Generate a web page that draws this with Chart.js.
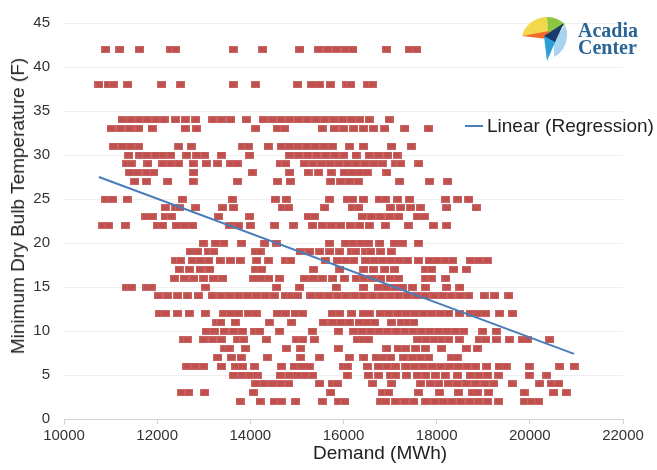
<!DOCTYPE html>
<html>
<head>
<meta charset="utf-8">
<script src="https://cdn.jsdelivr.net/npm/chart.js@4/dist/chart.umd.min.js"></script>
<style>
  body { margin: 0; background: #fff; }
  #wrap { position: relative; width: 657px; height: 470px; font-family: "Liberation Sans", Arial, sans-serif; }
  #logo { position: absolute; left: 518px; top: 14px; }
  #brand { position: absolute; left: 578px; top: 22px; font: bold 20px/17px "Liberation Serif", serif; color: #2a6596; }
  #legend { position: absolute; left: 465px; top: 115px; font-size: 19px; line-height: 22px; color: #222; white-space: nowrap; }
  #legend span { display: inline-block; width: 18px; height: 2px; background: #4a7ebb; vertical-align: middle; margin-right: 4px; position: relative; top: -1px; }
  #xtitle { position: absolute; left: 313px; top: 442px; font-size: 19px; line-height: 22px; color: #222; white-space: nowrap; }
  #ytitle { position: absolute; left: 18px; top: 206px; font-size: 19px; line-height: 22px; color: #222; white-space: nowrap;
            transform: translate(-50%, -50%) rotate(-90deg); }
</style>
</head>
<body>
<div id="wrap">
  <canvas id="myChart" width="657" height="470"></canvas>
  <svg id="logo" width="52" height="50" viewBox="0 0 52 50">
    <path d="M30 21 L4 22 A26 24 0 0 1 29 3 Z" fill="#f3d84b"/>
    <path d="M30 21 L29 3 A22 20 0 0 1 47 11 Z" fill="#8dc641"/>
    <path d="M36 26 L47 11 A22 22 0 0 1 49 23 A22 24 0 0 1 36 43 Z" fill="#a9d3ef"/>
    <path d="M4 22 L31 17 L30 25 Z" fill="#f26b2a"/>
    <path d="M26 22 L38 26 L29 47 Z" fill="#2a9fd8"/>
    <path d="M46 9 L26 22 L37 28 Z" fill="#1b3a6b"/>
  </svg>
  <div id="brand">Acadia<br>Center</div>
  <div id="legend"><span></span>Linear (Regression)</div>
  <div id="xtitle">Demand (MWh)</div>
  <div id="ytitle">Minimum Dry Bulb Temperature (F)</div>
</div>
<script>
// demand values (MWh), one array per temperature (F)
const t42 = [10900, 11200, 11620, 12280, 12400, 13630, 14270, 15060, 15460, 15660, 15850, 16050, 16200, 16920, 17410, 17570];
const t38 = [10750, 10950, 11060, 11370, 12100, 12500, 13630, 14110, 15020, 15320, 15480, 15720, 16070, 16160, 16520, 16620];
const t34 = [11250, 11430, 11610, 11790, 11970, 12150, 12390, 12600, 12830, 13190, 13380, 13580, 13910, 14280, 14470, 14660, 14840, 15030, 15220, 15410, 15600, 15790, 15980, 16170, 16350, 16550, 16980];
const t33 = [11010, 11210, 11410, 11610, 11890, 12600, 12840, 14120, 14580, 14740, 15540, 15800, 16010, 16220, 16430, 16640, 16890, 17320, 17820];
const t31 = [11060, 11250, 11430, 11610, 12460, 12730, 13830, 13960, 14380, 14660, 14840, 15020, 15210, 15390, 15580, 15760, 16130, 16430, 17040, 17450];
const t30 = [11390, 11620, 11770, 11970, 12130, 12290, 12630, 12850, 13020, 13380, 13990, 14840, 15030, 15230, 15420, 15620, 15810, 16010, 16270, 16550, 16750, 16950, 17150];
const t29 = [11350, 11440, 11800, 12120, 12290, 12460, 12770, 13050, 13300, 13580, 13720, 14640, 14760, 15160, 15340, 15530, 15710, 15900, 16090, 16270, 16460, 16650, 16830, 17120, 17230, 17620];
const t28 = [11410, 11570, 11780, 11930, 12790, 14040, 14850, 15240, 15470, 15740, 16020, 16190, 16340, 16510, 16930];
const t27 = [11520, 11770, 12230, 12770, 13730, 14590, 14860, 15730, 15940, 16130, 16320, 17210, 17850, 18240];
const t25 = [10900, 11040, 11360, 12540, 13610, 14540, 14770, 15700, 16090, 16190, 16420, 16770, 16900, 17160, 17420, 18190, 18450, 18690];
const t24 = [12170, 12400, 12480, 12830, 13410, 13640, 14690, 14820, 15590, 16190, 16330, 17000, 17230, 17440, 17650, 18220, 18850];
const t23 = [11760, 11890, 12170, 12310, 13320, 13990, 15240, 15370, 16400, 16600, 16790, 16990, 17190, 17590, 17730];
const t22 = [10830, 10950, 11320, 12010, 12110, 12420, 12590, 12760, 13560, 13740, 14000, 14520, 14930, 15340, 15540, 15740, 15940, 16140, 16350, 16550, 16900, 17390, 17930, 18220];
const t20 = [12990, 13260, 13430, 13810, 14310, 14560, 15700, 16050, 16210, 16370, 16530, 16780, 17090, 17260, 17610];
const t19 = [12710, 12860, 13100, 13220, 14110, 14210, 15070, 15280, 15490, 15710, 15920, 16170, 16260, 16480, 16580, 16800, 17020];
const t18 = [12400, 12500, 12750, 12930, 13110, 13350, 13570, 13780, 14140, 14390, 14760, 14870, 15610, 15870, 16050, 16220, 16480, 16660, 16840, 17010, 17190, 17370, 17610, 17840, 18010, 18190, 18340, 18720, 18900, 19090];
const t17 = [12470, 12690, 12920, 13130, 14120, 14240, 15360, 15920, 16440, 16650, 16890, 17100, 17770, 17890, 18370, 18630];
const t16 = [12370, 12580, 12790, 13000, 13210, 13410, 14070, 14230, 14400, 14630, 15170, 15350, 15540, 15770, 16020, 16270, 16440, 16610, 16800, 17000, 17180, 17770, 17890, 18200];
const t15 = [11340, 11440, 11780, 11870, 13040, 14570, 15060, 15840, 16440, 16750, 16920, 17110, 17260, 17480, 17760, 18220, 18500];
const t14 = [12020, 12230, 12440, 12650, 12880, 13180, 13370, 13560, 13750, 13940, 14130, 14320, 14510, 14750, 14880, 15010, 15300, 15490, 15680, 15870, 16050, 16240, 16430, 16620, 16810, 17000, 17180, 17370, 17560, 17750, 17940, 18130, 18310, 18500, 18690, 19020, 19250, 19550];
const t12 = [12050, 12180, 12440, 12690, 13030, 13430, 13580, 13740, 13960, 14130, 14580, 14760, 14960, 15120, 15760, 15920, 16180, 16430, 16550, 16790, 16970, 17160, 17340, 17530, 17710, 17890, 18080, 18260, 18490, 18720, 18880, 19050, 19350, 19630];
const t11 = [13280, 13370, 13680, 14410, 14890, 15560, 15760, 15940, 16120, 16340, 16510, 16670, 17020, 17250, 17380, 17510];
const t10 = [13050, 13230, 13440, 13640, 13830, 14100, 14200, 14630, 15330, 15890, 16220, 16400, 16580, 16760, 16940, 17130, 17310, 17490, 17670, 17850, 18040, 18220, 18400, 18580, 18990, 19280];
const t9 = [12570, 12650, 13000, 13190, 13380, 13730, 13860, 14340, 15000, 15120, 15370, 16300, 16420, 16530, 17590, 17770, 17950, 18110, 18260, 18480, 18910, 19050, 19280, 19560, 19840, 19940, 20430];
const t8 = [13450, 13550, 13900, 14770, 15080, 15890, 16930, 17170, 17330, 17550, 17760, 18110, 18630, 18870];
const t7 = [13300, 13590, 13800, 14360, 15080, 15490, 16120, 16440, 16700, 16850, 17010, 17290, 17480, 17650, 17830, 18320, 18440];
const t6 = [12640, 12810, 13000, 13380, 13690, 13830, 14090, 14670, 14940, 15100, 15260, 16000, 16080, 16510, 16750, 16930, 17120, 17340, 17530, 17710, 17900, 18090, 18280, 18460, 18650, 18840, 19080, 19340, 19490, 19990, 20640, 20950];
const t5 = [13640, 13820, 13990, 14150, 14640, 14840, 15010, 15180, 15340, 16080, 16530, 16760, 17010, 17120, 17350, 17580, 17770, 17970, 18180, 18450, 18720, 18900, 19090, 19330, 19990, 20360];
const t4 = [14120, 14300, 14480, 14660, 14830, 15490, 15760, 15870, 16630, 17040, 17660, 17860, 18050, 18250, 18440, 18640, 18840, 19030, 19230, 19620, 20210, 20460, 20620];
const t3 = [12520, 12680, 13020, 14060, 15730, 16840, 16970, 17610, 18060, 18470, 18770, 18870, 19120, 19880, 20510, 20780];
const t2 = [13780, 14210, 14510, 14670, 14970, 15540, 15890, 16030, 16800, 16900, 17120, 17320, 17510, 17770, 17960, 18140, 18330, 18520, 18710, 18900, 19090, 19330, 19890, 20040, 20190];

const rows = [[42, t42], [38, t38], [34, t34], [33, t33], [31, t31], [30, t30], [29, t29], [28, t28], [27, t27],
  [25, t25], [24, t24], [23, t23], [22, t22], [20, t20], [19, t19], [18, t18], [17, t17], [16, t16], [15, t15],
  [14, t14], [12, t12], [11, t11], [10, t10], [9, t9], [8, t8], [7, t7], [6, t6], [5, t5], [4, t4], [3, t3], [2, t2]];

// regression line end points as drawn
const trendDemand = [10750, 20950];
const trendTemp = [27.5, 7.4];

const xTicks = { min: 10000, max: 22000, step: 2000 };
const yTicks = { min: 0, max: 45, step: 5 };

document.addEventListener('DOMContentLoaded', () => {
    Chart.defaults.font.family = '"Liberation Sans", Arial, sans-serif';

    // flat red rectangle marker like the Excel one
    const marker = document.createElement('canvas');
    marker.width = 9;
    marker.height = 7;
    const mc = marker.getContext('2d');
    mc.fillStyle = '#c0504d';
    mc.fillRect(0, 0, 9, 7);
    mc.strokeStyle = '#c96562';
    mc.lineWidth = 1;
    mc.strokeRect(0.5, 0.5, 8, 6);

    const points = [];
    rows.forEach(([temp, demands]) => {
        demands.forEach(d => points.push({ x: d, y: temp }));
    });

    const ctx = document.getElementById('myChart').getContext('2d');
    new Chart(ctx, {
        type: 'scatter',
        data: {
            datasets: [{
                type: 'line',
                label: 'Linear (Regression)',
                data: trendDemand.map((d, i) => ({ x: d, y: trendTemp[i] })),
                borderColor: '#4a7ebb',
                borderWidth: 2,
                pointRadius: 0,
                fill: false
            }, {
                label: 'Data',
                data: points,
                pointStyle: marker,
                pointRadius: 4
            }]
        },
        options: {
            responsive: false,
            animation: false,
            devicePixelRatio: 1,
            layout: { padding: { top: 15, right: 34, left: 0, bottom: 0 } },
            plugins: {
                legend: { display: false },
                tooltip: { enabled: false }
            },
            scales: {
                x: {
                    type: 'linear',
                    min: xTicks.min,
                    max: xTicks.max,
                    afterFit: s => { s.height = 51; },
                    ticks: {
                        stepSize: xTicks.step,
                        color: '#333',
                        font: { size: 15 },
                        padding: 3,
                        callback: v => v
                    },
                    grid: { drawOnChartArea: false, tickLength: 5, color: '#d3d3d3' },
                    border: { color: '#d3d3d3' }
                },
                y: {
                    min: yTicks.min,
                    max: yTicks.max,
                    afterFit: s => { s.width = 64; },
                    ticks: {
                        stepSize: yTicks.step,
                        color: '#333',
                        font: { size: 15 },
                        padding: 14
                    },
                    grid: { color: '#efefef', drawTicks: false },
                    border: { display: false }
                }
            }
        }
    });
});
</script>
</body>
</html>
